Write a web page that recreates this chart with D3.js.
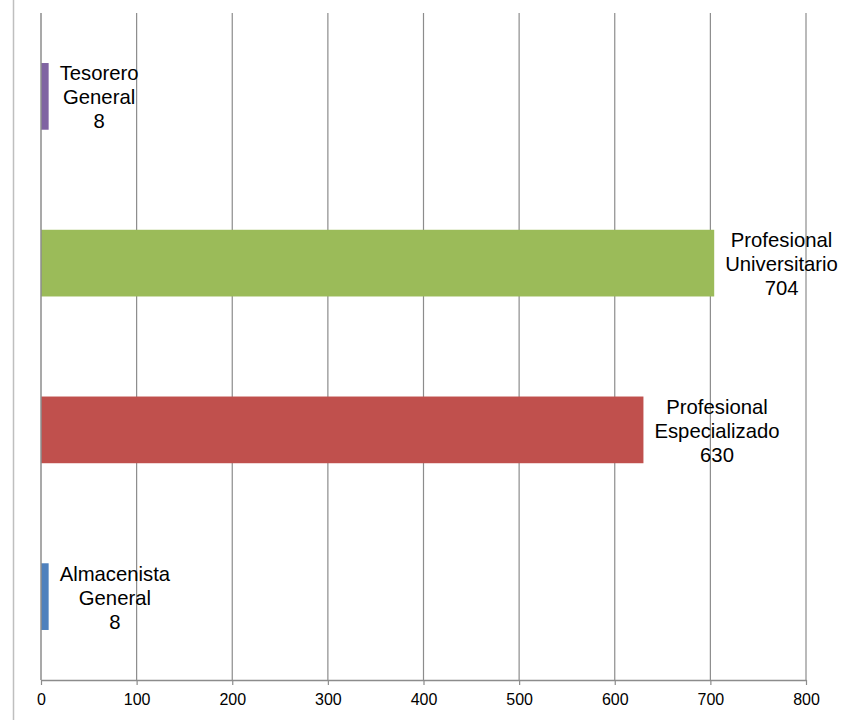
<!DOCTYPE html>
<html><head><meta charset="utf-8">
<script src="https://cdn.jsdelivr.net/npm/d3@7"></script>
<style>body{margin:0;background:#fff}</style>
</head><body>
<svg id="c" width="842" height="720"></svg>
<script>
const categories = ["Almacenista General","Profesional Especializado","Profesional Universitario","Tesorero General"];
const labelLines = [["Almacenista","General"],["Profesional","Especializado"],["Profesional","Universitario"],["Tesorero","General"]];
const values = [8,630,704,8];
const colors = ["#4F81BD","#C0504D","#9BBB59","#8064A2"];
const ticks = [0,100,200,300,400,500,600,700,800];

const svg = d3.select("#c");
const x = d3.scaleLinear().domain([0,800]).range([41,806]);
const y = d3.scaleBand().domain(categories.slice().reverse()).range([13,680]).paddingInner(0.6).paddingOuter(0.3);

svg.append("line").attr("x1",13.5).attr("x2",13.5).attr("y1",0).attr("y2",720).attr("stroke","#bfbfbf").attr("stroke-width",1.5);

// gridlines
svg.append("g").selectAll("line").data(ticks.slice(1)).join("line")
  .attr("x1",d=>x(d)).attr("x2",d=>x(d)).attr("y1",13).attr("y2",680)
  .attr("stroke","#8c8c8c").attr("stroke-width",1.2);

// bars
svg.append("g").selectAll("rect").data(categories).join("rect")
  .attr("x",x(0)).attr("y",d=>y(d)).attr("height",y.bandwidth())
  .attr("width",(d,i)=>x(values[i])-x(0)).attr("fill",(d,i)=>colors[i]);

// axes
const ax = svg.append("g").attr("transform","translate(0,680)")
  .call(d3.axisBottom(x).tickValues(ticks).tickSize(5).tickPadding(9).tickSizeOuter(0));
ax.attr("font-size",null).attr("font-family",null);
ax.select(".domain").attr("stroke","#8c8c8c").attr("stroke-width",1.5);
ax.selectAll(".tick line").attr("stroke","#8c8c8c").attr("stroke-width",1.2);
ax.selectAll("text").style("font-family","Liberation Sans, Arial, sans-serif").style("font-size","16px").attr("fill","#000");

svg.append("line").attr("x1",x(0)).attr("x2",x(0)).attr("y1",13).attr("y2",680).attr("stroke","#8c8c8c").attr("stroke-width",1.5);

// labels
categories.forEach((c,i)=>{
  const lines = labelLines[i].concat([String(values[i])]);
  const g = svg.append("g");
  const t = g.append("text").style("font-family","Liberation Sans, Arial, sans-serif").style("font-size","20.3px").attr("fill","#000").attr("text-anchor","middle");
  const cy = y(c)+y.bandwidth()/2;
  lines.forEach((l,k)=>{
    t.append("tspan").attr("x",0).attr("y",cy + (k-1)*24 + 8).text(l);
  });
  let w = 0;
  t.selectAll("tspan").each(function(){w=Math.max(w,this.getComputedTextLength());});
  t.selectAll("tspan").attr("x", Math.min(x(values[i]) + 11 + w/2, 838 - w/2));
});
</script>
</body></html>
